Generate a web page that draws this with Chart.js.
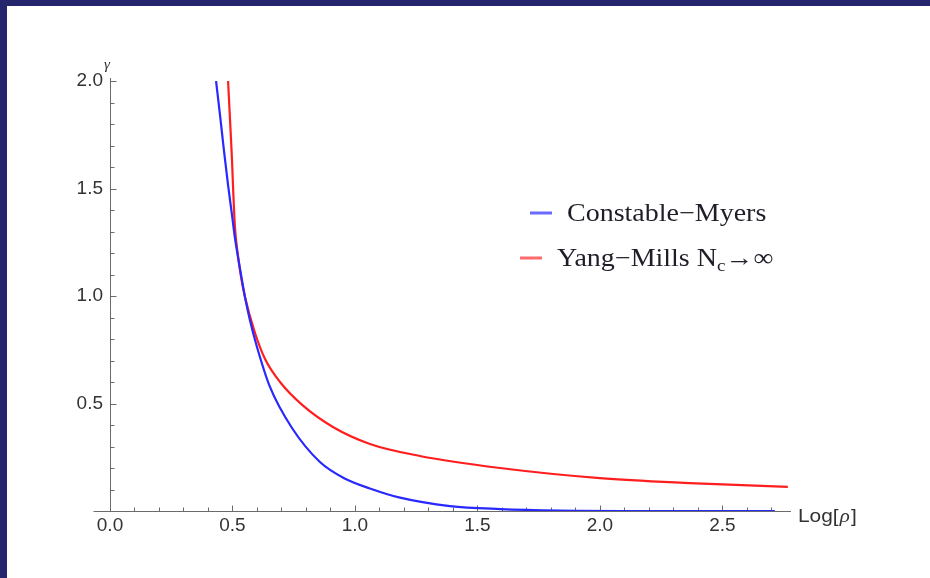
<!DOCTYPE html>
<html lang="en">
<head>
<meta charset="UTF-8">
<title>Constable-Myers vs Yang-Mills</title>
<script src="https://cdn.jsdelivr.net/npm/chart.js"></script>
<style>
    html, body { margin: 0; padding: 0; background: #fff; }
    #wrap { position: relative; width: 930px; height: 578px; overflow: hidden; }
    .frameTop { position: absolute; left: 0; top: 0; width: 930px; height: 6px; background: #25256e; }
    .frameLeft { position: absolute; left: 0; top: 0; width: 7px; height: 578px; background: #25256e; }
</style>
</head>
<body>
<div id="wrap">
    <canvas id="chart" width="930" height="578"></canvas>
    <div class="frameTop"></div>
    <div class="frameLeft"></div>
</div>
<script>
    // Series (x = Log[rho], y = gamma)
    const seriesNames = ["Constable\u2212Myers", "Yang\u2212Mills N"];
    const cmX = [0.433, 0.449, 0.465, 0.482, 0.498, 0.510, 0.531, 0.551, 0.571, 0.600, 0.653, 0.743, 0.857, 0.96, 1.061, 1.184, 1.388, 1.592, 1.837, 2.204, 2.714];
    const cmY = [2.0, 1.842, 1.679, 1.516, 1.377, 1.270, 1.125, 0.995, 0.888, 0.763, 0.577, 0.386, 0.228, 0.150, 0.105, 0.062, 0.023, 0.009, 0.002, 0.0, 0.0];
    const ymX = [0.482, 0.490, 0.498, 0.502, 0.510, 0.522, 0.535, 0.551, 0.592, 0.633, 0.694, 0.788, 0.910, 1.061, 1.265, 1.592, 2.0, 2.367, 2.767];
    const ymY = [2.0, 1.819, 1.633, 1.516, 1.321, 1.191, 1.088, 0.995, 0.828, 0.707, 0.600, 0.490, 0.391, 0.312, 0.256, 0.200, 0.153, 0.130, 0.112];
    const xTickLabels = [0.0, 0.5, 1.0, 1.5, 2.0, 2.5];
    const yTickLabels = [0.5, 1.0, 1.5, 2.0];

    const toPoints = (xs, ys) => xs.map((x, i) => ({ x: x, y: ys[i] }));
    const isLabelled = (v, list) => list.some(l => Math.abs(l - v) < 1e-6);
    const isMajor = v => Math.abs(v * 2 - Math.round(v * 2)) < 1e-6;

    // Mathematica style axes crossing at the origin, ticks pointing inward
    const axesPlugin = {
        id: "mmaAxes",
        beforeDatasetsDraw(chart) {
            const { ctx, scales: { x, y } } = chart;
            const x0 = Math.round(x.getPixelForValue(0)) + 0.5;
            const y0 = Math.round(y.getPixelForValue(0)) + 0.5;
            ctx.save();
            ctx.strokeStyle = "#6b6b6b";
            ctx.lineWidth = 1;
            ctx.beginPath();
            ctx.moveTo(x0 - 17, y0);
            ctx.lineTo(x.right, y0);
            ctx.moveTo(x0, y0);
            ctx.lineTo(x0, y.top - 3);
            x.ticks.forEach(t => {
                if (t.value <= 0) return;
                const px = Math.round(x.getPixelForValue(t.value)) + 0.5;
                ctx.moveTo(px, y0);
                ctx.lineTo(px, y0 - (isMajor(t.value) ? 6 : 4));
            });
            y.ticks.forEach(t => {
                if (t.value <= 0) return;
                const py = Math.round(y.getPixelForValue(t.value)) + 0.5;
                ctx.moveTo(x0, py);
                ctx.lineTo(x0 + (isMajor(t.value) ? 6 : 4), py);
            });
            ctx.stroke();
            ctx.restore();
        },
        afterDraw(chart) {
            const { ctx, scales: { x, y } } = chart;
            const x0 = x.getPixelForValue(0);
            const y0 = y.getPixelForValue(0);
            ctx.save();
            ctx.fillStyle = "#333";
            ctx.textBaseline = "alphabetic";
            // y axis label
            ctx.font = "italic 15px 'Liberation Serif'";
            ctx.fillText("\u03b3", x0 - 6, y.top - 12);
            // x axis label
            ctx.translate(x.right + 7, y0 + 11);
            ctx.scale(1.1, 1);
            ctx.font = "19px 'Liberation Sans'";
            let w = 0;
            ctx.fillText("Log[", w, 0); w += ctx.measureText("Log[").width + 1;
            ctx.font = "italic 19px 'Liberation Serif'";
            ctx.fillText("\u03c1", w, 0); w += ctx.measureText("\u03c1").width + 1;
            ctx.font = "19px 'Liberation Sans'";
            ctx.fillText("]", w, 0);
            ctx.restore();

            // legend, top right of the plot
            const ds = chart.data.datasets;
            const items = [
                { lx: 530, ly: 213, tx: 567, ty: 221, color: "rgba(70,70,255,0.8)", text: ds[0].label, sub: "", tail: "" },
                { lx: 520, ly: 258, tx: 557, ty: 266, color: "rgba(255,80,80,0.85)", text: ds[1].label, sub: "c", tail: "\u2192\u221e" }
            ];
            items.forEach(it => {
                ctx.save();
                ctx.strokeStyle = it.color;
                ctx.lineWidth = 3;
                ctx.beginPath();
                ctx.moveTo(it.lx, it.ly);
                ctx.lineTo(it.lx + 22, it.ly);
                ctx.stroke();
                ctx.translate(it.tx, it.ty);
                ctx.scale(1.12, 1);
                ctx.fillStyle = "#1e1e28";
                ctx.font = "25px 'Liberation Serif'";
                ctx.fillText(it.text, 0, 0);
                let w = ctx.measureText(it.text).width;
                if (it.sub) {
                    ctx.font = "17px 'Liberation Serif'";
                    ctx.fillText(it.sub, w, 5);
                    w += ctx.measureText(it.sub).width;
                    ctx.font = "25px 'Liberation Serif'";
                    ctx.fillText(it.tail, w, 0);
                }
                ctx.restore();
            });
        }
    };

    new Chart(document.getElementById("chart"), {
        type: "scatter",
        data: {
            datasets: [
                {
                    label: seriesNames[0],
                    data: toPoints(cmX, cmY),
                    showLine: true,
                    borderColor: "rgb(40,40,255)",
                    borderWidth: 2.2,
                    pointRadius: 0,
                    cubicInterpolationMode: "monotone"
                },
                {
                    label: seriesNames[1],
                    data: toPoints(ymX, ymY),
                    showLine: true,
                    borderColor: "rgb(255,30,30)",
                    borderWidth: 2.2,
                    pointRadius: 0,
                    cubicInterpolationMode: "monotone"
                }
            ]
        },
        options: {
            responsive: false,
            animation: false,
            devicePixelRatio: 1,
            layout: { padding: { left: 60, right: 139, top: 81, bottom: 27 } },
            plugins: { legend: { display: false }, tooltip: { enabled: false } },
            scales: {
                x: {
                    type: "linear",
                    min: 0,
                    max: 2.78,
                    grid: { display: false, drawTicks: false },
                    border: { display: false },
                    afterFit: s => { s.height = 40; },
                    ticks: {
                        stepSize: 0.1,
                        includeBounds: false,
                        autoSkip: false,
                        maxRotation: 0,
                        minRotation: 0,
                        padding: 3,
                        color: "#333",
                        font: { family: "'Liberation Sans'", size: 19 },
                        callback: v => isLabelled(v, xTickLabels) ? v.toFixed(1) : ""
                    }
                },
                y: {
                    type: "linear",
                    min: 0,
                    max: 2.0,
                    grid: { display: false, drawTicks: false },
                    border: { display: false },
                    afterFit: s => { s.width = 50; },
                    ticks: {
                        stepSize: 0.1,
                        autoSkip: false,
                        padding: 7,
                        color: "#333",
                        font: { family: "'Liberation Sans'", size: 19 },
                        callback: v => isLabelled(v, yTickLabels) ? v.toFixed(1) : ""
                    }
                }
            }
        },
        plugins: [axesPlugin]
    });
</script>
</body>
</html>
